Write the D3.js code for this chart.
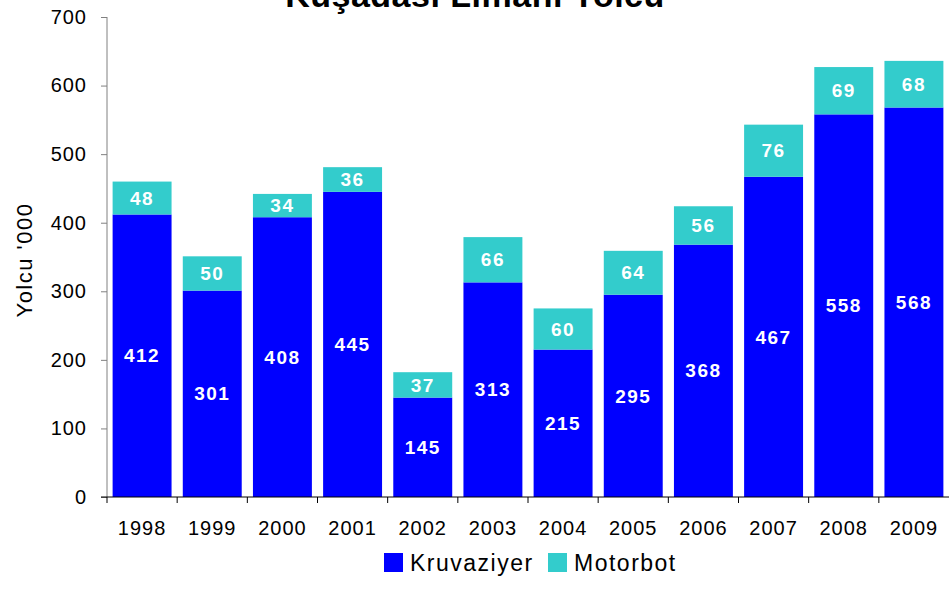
<!DOCTYPE html>
<html>
<head>
<meta charset="utf-8">
<style>
body { margin: 0; background: #fff; }
text { font-family: "Liberation Sans", Arial, sans-serif; }
.lbl { fill: #fff; font-weight: bold; font-size: 19px; letter-spacing: 1.5px; }
</style>
<title>Kuşadası Limanı Yolcu</title>
</head>
<body>
<div id="chart"></div>
<script src="https://d3js.org/d3.v7.min.js"></script>
<script>
var years = ["1998","1999","2000","2001","2002","2003","2004","2005","2006","2007","2008","2009"];
var kruvaziyer = [412, 301, 408, 445, 145, 313, 215, 295, 368, 467, 558, 568];
var motorbot = [48, 50, 34, 36, 37, 66, 60, 64, 56, 76, 69, 68];
var yTicks = [0, 100, 200, 300, 400, 500, 600, 700];
var seriesNames = ["Kruvaziyer", "Motorbot"];
var colors = ["#0000ff", "#33cccc"];

var width = 949, height = 590;
var plotLeft = 107, plotRight = 949, plotTop = 17, plotBottom = 497;

var svg = d3.select("#chart").append("svg")
    .attr("width", width)
    .attr("height", height);

var x = d3.scaleBand()
    .domain(years)
    .range([plotLeft, plotRight])
    .paddingInner(0.16)
    .paddingOuter(0.08);

var y = d3.scaleLinear()
    .domain([0, 700])
    .range([plotBottom, plotTop]);

var rows = years.map(function(yr, i) {
    return { year: yr, Kruvaziyer: kruvaziyer[i], Motorbot: motorbot[i] };
});
var stack = d3.stack().keys(seriesNames)(rows);

// title (cut off at the top like the original)
svg.append("text")
    .attr("x", 475)
    .attr("y", 7)
    .attr("text-anchor", "middle")
    .attr("font-size", "34px")
    .attr("font-weight", "bold")
    .attr("letter-spacing", "0.5px")
    .text("Kuşadası Limanı Yolcu");

var layers = svg.append("g")
    .selectAll("g")
    .data(stack)
    .enter().append("g")
      .attr("fill", function(d, i) { return colors[i]; });

layers.selectAll("rect")
    .data(function(d) { return d; })
    .enter().append("rect")
      .attr("x", function(d) { return x(d.data.year); })
      .attr("y", function(d) { return y(d[1]); })
      .attr("width", x.bandwidth())
      .attr("height", function(d) { return y(d[0]) - y(d[1]); });

layers.selectAll("text")
    .data(function(d) { return d; })
    .enter().append("text")
      .attr("class", "lbl")
      .attr("text-anchor", "middle")
      .attr("x", function(d) { return x(d.data.year) + x.bandwidth() / 2; })
      .attr("y", function(d) { return (y(d[0]) + y(d[1])) / 2; })
      .attr("dy", "0.35em")
      .text(function(d) { return d[1] - d[0]; });

// y axis
var yAxis = svg.append("g")
    .attr("transform", "translate(" + plotLeft + ",0)")
    .call(d3.axisLeft(y).tickValues(yTicks).tickSize(6).tickPadding(14));
yAxis.selectAll("path, line").attr("stroke", "#808080");
yAxis.select(".domain").attr("d", "M0," + plotTop + "V" + plotBottom);
yAxis.selectAll("text").attr("font-size", "20px").attr("fill", "#000")
    .attr("letter-spacing", "1px")
    .style("font-family", "'Liberation Sans', Arial, sans-serif");

// x axis with ticks between categories
var xAxis = svg.append("g")
    .attr("transform", "translate(0," + plotBottom + ")");
xAxis.append("line")
    .attr("x1", plotLeft - 6).attr("x2", plotRight)
    .attr("stroke", "#000");
xAxis.selectAll("line.tick")
    .data(years)
    .enter().append("line")
      .attr("class", "tick")
      .attr("x1", function(d) { return x(d) - x.step() * x.paddingInner() / 2; })
      .attr("x2", function(d) { return x(d) - x.step() * x.paddingInner() / 2; })
      .attr("y1", 0).attr("y2", 6)
      .attr("stroke", "#000");
xAxis.selectAll("text")
    .data(years)
    .enter().append("text")
      .attr("x", function(d) { return x(d) + x.bandwidth() / 2; })
      .attr("y", 38)
      .attr("text-anchor", "middle")
      .attr("font-size", "20px")
      .attr("letter-spacing", "1px")
      .text(function(d) { return d; });

// y axis title
svg.append("text")
    .attr("transform", "translate(32,260) rotate(-90)")
    .attr("text-anchor", "middle")
    .attr("font-size", "22px")
    .attr("letter-spacing", "1.5px")
    .text("Yolcu '000");

// legend
var legend = svg.append("g")
    .selectAll("g")
    .data(seriesNames)
    .enter().append("g")
      .attr("transform", function(d, i) { return "translate(" + (i ? 548 : 384) + ",553)"; });
legend.append("rect")
    .attr("width", 19).attr("height", 19)
    .attr("fill", function(d, i) { return colors[i]; });
legend.append("text")
    .attr("x", 26).attr("y", 18)
    .attr("font-size", "23px")
    .attr("letter-spacing", "1.5px")
    .text(function(d) { return d; });
</script>
</body>
</html>
